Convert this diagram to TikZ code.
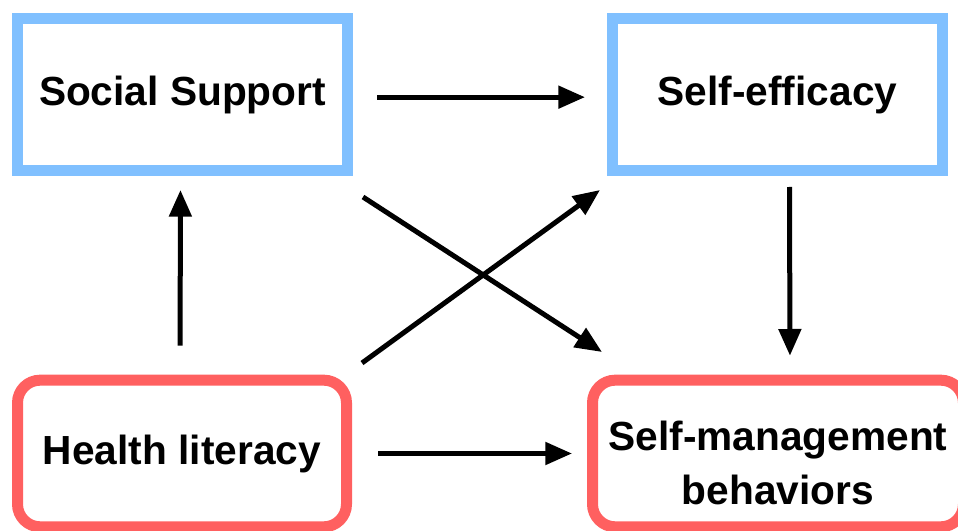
\documentclass[tikz,border=0pt]{standalone}
\usepackage{fontspec}
\setmainfont{Liberation Sans}
\usepackage{tikz}
\usetikzlibrary{arrows.meta}

\definecolor{boxblue}{RGB}{128,192,255}
\definecolor{boxred}{RGB}{255,96,96}

\begin{document}
\begin{tikzpicture}[x=0.75pt,y=-0.75pt,
    >={Triangle[length=20pt,width=16.5pt]},
    conn/.style={->,line width=3.75pt},
    lbl/.style={font=\fontsize{30.5}{40}\selectfont\bfseries,align=center},
    sqbox/.style={draw=boxblue,line width=8.25pt,minimum width=247.5pt,minimum height=114pt,lbl},
    rndbox/.style={draw=boxred,line width=8.25pt,rounded corners=17pt,minimum height=110pt,lbl}]
  \clip (0,0) rectangle (958,531);
  \useasboundingbox (0,0) rectangle (958,531);
  \node[sqbox] (ss) at (182.5,94.5) {Social Support};
  \node[sqbox] (se) at (777.5,94.5) {Self-efficacy};
  \node[rndbox,minimum width=246.75pt] (hl) at (182,453.5) {Health literacy};
  \node[rndbox,minimum width=278.25pt] (sm) at (778,453.5) {};
  \node[lbl] (smtxt) at ([yshift=-7pt]sm.center) {Self-management\\behaviors};
  % crossing paths
  \coordinate (c1) at (363,197); \coordinate (c2) at (602,352);
  \coordinate (c3) at (362,363); \coordinate (c4) at (600,190);
  \draw[conn,shorten <=18pt,shorten >=16.5pt] ([yshift=-2pt]ss.east)--([yshift=-2pt]se.west);
  \draw[conn,shorten <=21.75pt,shorten >=10.5pt] ([xshift=-1.5pt]hl.north)--([xshift=-1.5pt]ss.south);
  \draw[conn,shorten <=8.25pt,shorten >=14.25pt] ([xshift=9pt]se.south)--([xshift=9pt]sm.north);
  \draw[conn,shorten <=19.5pt,shorten >=11.25pt] (hl.east)--(sm.west);
  \draw[conn] (c1)--(c2);
  \draw[conn] (c3)--(c4);
\end{tikzpicture}
\end{document}
